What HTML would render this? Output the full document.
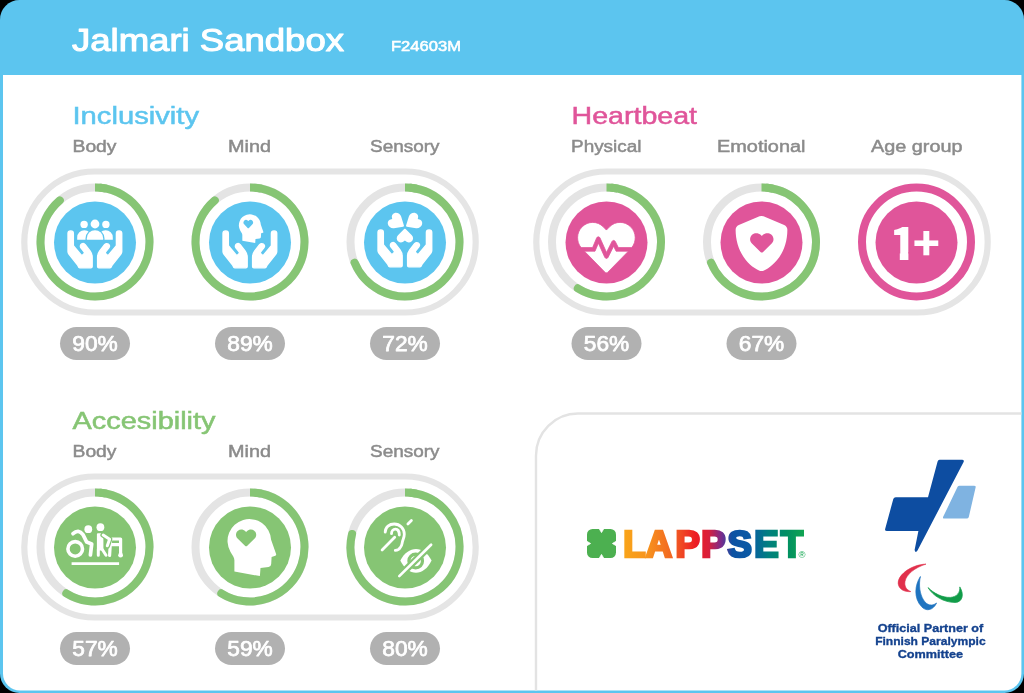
<!DOCTYPE html>
<html lang="en">
<head>
<meta charset="utf-8">
<title>Jalmari Sandbox</title>
<style>
  html, body { margin: 0; padding: 0; background: #000; }
  body { width: 1024px; height: 693px; overflow: hidden; }
  svg { display: block; }
  text { font-family: "Liberation Sans", "DejaVu Sans", sans-serif; }
  .title { font-size: 32px; font-weight: 400; fill: #fff; stroke: #fff; stroke-width: 1.1px; stroke-linejoin: round; }
  .code { font-size: 14.5px; font-weight: 400; fill: #fff; stroke: #fff; stroke-width: 0.55px; stroke-linejoin: round; }
  .h2 { font-size: 23.5px; font-weight: 400; }
  .lbl { font-size: 16px; font-weight: 400; fill: #8b8b8b; stroke: #8b8b8b; stroke-width: 0.45px; }
  .pct { font-size: 21.5px; font-weight: 400; fill: #fff; stroke: #fff; stroke-width: 0.75px; stroke-linejoin: round; text-anchor: middle; }
  .track { fill: none; stroke: #e4e4e4; stroke-width: 8; }
  .prog { fill: none; stroke: #86c574; stroke-width: 8; }
  .pill { fill: none; stroke: #e5e5e5; stroke-width: 6.2; }
  .badge { fill: #b1b1b1; }
  .partner { font-size: 11.8px; font-weight: 700; fill: #14428e; stroke: #14428e; stroke-width: 0.35px; text-anchor: middle; }
</style>
</head>
<body>
<svg width="1024" height="693" viewBox="0 0 1024 693">
  <defs>
    <linearGradient id="lapp" gradientUnits="userSpaceOnUse" x1="623" y1="0" x2="805" y2="0">
      <stop offset="0" stop-color="#f9a51a"/>
      <stop offset="0.13" stop-color="#f7941d"/>
      <stop offset="0.27" stop-color="#f26522"/>
      <stop offset="0.40" stop-color="#ed1c24"/>
      <stop offset="0.47" stop-color="#d91f3b"/>
      <stop offset="0.54" stop-color="#7a2b8c"/>
      <stop offset="0.60" stop-color="#0d52a3"/>
      <stop offset="0.70" stop-color="#0a5aa5"/>
      <stop offset="0.80" stop-color="#00807f"/>
      <stop offset="0.90" stop-color="#008f63"/>
      <stop offset="1" stop-color="#12a650"/>
    </linearGradient>

    <path id="hands" d="M204.8 230.4c-10.600-14.100-30.700-17-44.800-6.400-14.100 10.600-17 30.700-6.400 44.800l38.100 50.800c4.800 6.400 4.100 15.300-1.500 20.900l-12.800 12.800c-6.700 6.700-17.600 6.200-23.600-1.100L64 244.400V96c0-17.700-14.300-32-32-32S0 78.300 0 96v218.400c0 10.900 3.700 21.500 10.500 30l104.100 134.300c5 6.500 8.400 13.900 10.400 21.700 1.800 6.900 8.100 11.600 15.300 11.600H272c8.800 0 16-7.200 16-16V384c0-27.700-9-54.600-25.600-76.800l-57.600-76.800zM608 64c-17.700 0-32 14.300-32 32v148.400l-89.800 107.800c-6 7.200-17 7.700-23.600 1.100l-12.800-12.800c-5.600-5.600-6.300-14.500-1.500-20.900l38.100-50.800c10.600-14.100 7.700-34.200-6.400-44.800-14.100-10.600-34.200-7.700-44.800 6.400l-57.600 76.800C361 329.400 352 356.300 352 384v112c0 8.800 7.200 16 16 16h131.700c7.100 0 13.500-4.700 15.300-11.600 2-7.800 5.400-15.200 10.400-21.700l104.100-134.300c6.800-8.500 10.500-19.100 10.500-30V96c0-17.700-14.300-32-32-32z"/>
    <path id="heart" d="M462.300 62.600C407.500 15.900 326 24.300 275.700 76.200L256 96.500l-19.700-20.300C186.100 24.300 104.500 15.900 49.700 62.600c-62.800 53.600-66.100 149.800-9.900 207.900l193.500 199.800c12.500 12.900 32.800 12.900 45.300 0l193.500-199.800c56.300-58.100 53-154.300-9.800-207.900z"/>
    <path id="shield" d="M466.500 83.700l-192-80a48.150 48.150 0 0 0-36.900 0l-192 80C27.700 91.100 16 108.600 16 128c0 198.500 114.500 335.700 221.500 380.300 11.800 4.900 25.100 4.900 36.900 0C360.100 472.600 496 349.300 496 128c0-19.400-11.700-36.900-29.500-44.300z"/>
    <path id="heartbeat" d="M320.200 243.800l-49.700 99.400c-6 12.100-23.400 11.700-28.900-.6l-56.900-126.300-30 71.700H60.600l182.500 186.500c7.100 7.300 18.600 7.300 25.700 0L451.400 288H342.300l-22.100-44.200zM473.700 73.900l-2.400-2.500c-51.500-52.600-135.800-52.600-187.400 0L256 100l-27.900-28.500c-51.500-52.700-135.900-52.700-187.400 0l-2.400 2.400C-10.400 123.700-12.500 203 31 256h102.400l35.900-86.200c5.400-12.900 23.600-13.200 29.400-.4l58.200 129.300 49-97.900c5.900-11.800 22.700-11.800 28.600 0l27.600 55.200H481c43.500-53 41.400-132.300-7.300-182.100z"/>
    <path id="head" d="M-15.6 24.6 V13.200 C-15.600 10.200 -17.500 8.300 -19.600 4.700 A21.800 21.800 0 1 1 21.100 -7.200 L26.100 7 Q26.500 8.300 25.300 8.700 L21.600 9.900 L21.200 17 Q21.100 19.500 18.600 19.900 L10.500 21.100 L9.900 29.100 Z"/>
  </defs>

  <!-- card -->
  <rect x="0" y="0" width="1024" height="693" rx="19.5" ry="19.5" fill="#5cc5ef"/>
  <path d="M3 75 H1021.400 V673.600 A17 17 0 0 1 1004.400 690.600 H20 A17 17 0 0 1 3 673.600 Z" fill="#fff"/>

  <!-- header -->
  <text class="title" x="72" y="51" textLength="272" lengthAdjust="spacingAndGlyphs">Jalmari Sandbox</text>
  <text class="code" x="391" y="51" textLength="70" lengthAdjust="spacingAndGlyphs">F24603M</text>

  <!-- ============ INCLUSIVITY ============ -->
  <g id="sec-inclusivity">
    <text class="h2" x="72.5" y="124.3" fill="#5cc5ef" stroke="#5cc5ef" stroke-width="0.5" textLength="126.5" lengthAdjust="spacingAndGlyphs">Inclusivity</text>
    <text class="lbl" x="72.5" y="152" textLength="44" lengthAdjust="spacingAndGlyphs">Body</text>
    <text class="lbl" x="228" y="152" textLength="43" lengthAdjust="spacingAndGlyphs">Mind</text>
    <text class="lbl" x="370" y="152" textLength="69.5" lengthAdjust="spacingAndGlyphs">Sensory</text>
    <rect class="pill" x="24.3" y="171.5" width="451.4" height="141" rx="70.5"/>

    <g transform="translate(95 242)">
      <circle class="track" r="54.5"/>
      <path class="prog" d="M0.00 -54.50 A54.5 54.5 0 0 1 11.33 -53.31"/><path class="prog" stroke-linecap="round" d="M5.70 -54.20 A54.5 54.5 0 1 1 -35.18 -41.62"/>
      <circle r="41" cy="0.5" fill="#5cc5ef"/>
      <g fill="#fff">
        <use href="#hands" stroke="#fff" stroke-width="16" stroke-linejoin="round" transform="translate(-27 -16.400) scale(0.084 0.0825)"/>
        <circle cx="-10.9" cy="-17.6" r="3.7"/>
        <circle cx="10.9" cy="-17.6" r="3.7"/>
        <path d="M-17.8 -2.2 V-4.6 A7.2 7.2 0 0 1 -3.4 -4.6 V-2.2 Z"/>
        <path d="M17.8 -2.2 V-4.6 A7.2 7.2 0 0 0 3.400 -4.600 V-2.200 Z"/>
        <path d="M-8.2 -2.2 V-3.6 A8.2 8.2 0 0 1 8.2 -3.6 V-2.2 Z" stroke="#5cc5ef" stroke-width="2.600" paint-order="stroke"/>
        <circle cx="0" cy="-18" r="4.4" stroke="#5cc5ef" stroke-width="1.600" paint-order="stroke"/>
      </g>
    </g>
    <g transform="translate(250 242)">
      <circle class="track" r="54.5"/>
      <path class="prog" d="M0.00 -54.50 A54.5 54.5 0 0 1 11.33 -53.31"/><path class="prog" stroke-linecap="round" d="M5.70 -54.20 A54.5 54.5 0 1 1 -35.18 -41.62"/>
      <circle r="41" cy="0.5" fill="#5cc5ef"/>
      <g fill="#fff">
        <use href="#hands" stroke="#fff" stroke-width="16" stroke-linejoin="round" transform="translate(-27 -16.400) scale(0.084 0.0825)"/>
        <use href="#head" transform="translate(0.200 -13.650) scale(0.505)"/>
        <use href="#heart" fill="#5cc5ef" transform="translate(-6.600 -22.800) scale(0.0191)"/>
      </g>
    </g>
    <g transform="translate(405 242)">
      <circle class="track" r="54.5"/>
      <path class="prog" d="M0.00 -54.50 A54.5 54.5 0 0 1 11.33 -53.31"/><path class="prog" stroke-linecap="round" d="M5.70 -54.20 A54.5 54.5 0 1 1 -50.46 20.60"/>
      <circle r="41" cy="0.5" fill="#5cc5ef"/>
      <g fill="#fff">
        <use href="#hands" stroke="#fff" stroke-width="16" stroke-linejoin="round" transform="translate(-27 -17.400) scale(0.084 0.0825)"/>
        <use href="#heart" transform="translate(-7.900 -19.900) rotate(-58) scale(0.0315 0.0355) translate(-256 -256)"/>
        <use href="#heart" transform="translate(7.900 -19.900) rotate(58) scale(0.0315 0.0355) translate(-256 -256)"/>
        <use href="#heart" transform="translate(-0.100 -6.400) rotate(180) scale(0.032 0.0305) translate(-256 -256)"/>
      </g>
    </g>

    <rect class="badge" x="60" y="327" width="70" height="33" rx="16.5"/>
    <text class="pct" x="95" y="351" textLength="45.5" lengthAdjust="spacingAndGlyphs">90%</text>
    <rect class="badge" x="215" y="327" width="70" height="33" rx="16.5"/>
    <text class="pct" x="250" y="351" textLength="45.5" lengthAdjust="spacingAndGlyphs">89%</text>
    <rect class="badge" x="370" y="327" width="70" height="33" rx="16.5"/>
    <text class="pct" x="405" y="351" textLength="45.5" lengthAdjust="spacingAndGlyphs">72%</text>
  </g>

  <!-- ============ HEARTBEAT ============ -->
  <g id="sec-heartbeat">
    <text class="h2" x="571.5" y="124.3" fill="#e0559a" stroke="#e0559a" stroke-width="0.5" textLength="125.5" lengthAdjust="spacingAndGlyphs">Heartbeat</text>
    <text class="lbl" x="571" y="152" textLength="70.5" lengthAdjust="spacingAndGlyphs">Physical</text>
    <text class="lbl" x="717" y="152" textLength="88.5" lengthAdjust="spacingAndGlyphs">Emotional</text>
    <text class="lbl" x="871" y="152" textLength="91.5" lengthAdjust="spacingAndGlyphs">Age group</text>
    <rect class="pill" x="536.3" y="171.5" width="451.4" height="141" rx="70.5"/>

    <g transform="translate(606.5 242)">
      <circle class="track" r="54.5"/>
      <path class="prog" d="M0.00 -54.50 A54.5 54.5 0 0 1 11.33 -53.31"/><path class="prog" stroke-linecap="round" d="M5.70 -54.20 A54.5 54.5 0 1 1 -28.71 46.32"/>
      <circle r="41" cy="0.5" fill="#e0559a"/>
      <use href="#heartbeat" fill="#fff" stroke="#e0559a" stroke-width="7" transform="translate(-28.900 -23.200) scale(0.1125)"/>
    </g>
    <g transform="translate(761.5 242)">
      <circle class="track" r="54.5"/>
      <path class="prog" d="M0.00 -54.50 A54.5 54.5 0 0 1 11.33 -53.31"/><path class="prog" stroke-linecap="round" d="M5.70 -54.20 A54.5 54.5 0 1 1 -50.46 20.60"/>
      <circle r="41" cy="0.5" fill="#e0559a"/>
      <use href="#shield" fill="#fff" transform="translate(-27.600 -26.100) scale(0.1078)"/>
      <use href="#heart" fill="#e0559a" transform="translate(-11.400 -10.200) scale(0.0457 0.0433)"/>
    </g>
    <g transform="translate(916.5 242)">
      <circle r="54.5" fill="none" stroke="#e0559a" stroke-width="8"/>
      <circle r="41" cy="0.5" fill="#e0559a"/>
      <text x="-26.700 -3.700" y="18" font-size="44.700" font-weight="900" fill="#fff" style="font-family:'Noto Sans CJK JP','Liberation Sans',sans-serif">1+</text>
      <path d="M-26.500 10.300 H-16.700 V19 H-26.500 Z M-8.100 10.300 H-1.500 V19 H-8.100 Z" fill="#e0559a"/>
    </g>

    <rect class="badge" x="571.5" y="327" width="70" height="33" rx="16.5"/>
    <text class="pct" x="606.5" y="351" textLength="45.5" lengthAdjust="spacingAndGlyphs">56%</text>
    <rect class="badge" x="726.5" y="327" width="70" height="33" rx="16.5"/>
    <text class="pct" x="761.5" y="351" textLength="45.5" lengthAdjust="spacingAndGlyphs">67%</text>
  </g>

  <!-- ============ ACCESIBILITY ============ -->
  <g id="sec-accesibility">
    <text class="h2" x="72.5" y="429.3" fill="#86c574" stroke="#86c574" stroke-width="0.5" textLength="143" lengthAdjust="spacingAndGlyphs">Accesibility</text>
    <text class="lbl" x="72.5" y="457" textLength="44" lengthAdjust="spacingAndGlyphs">Body</text>
    <text class="lbl" x="228" y="457" textLength="43" lengthAdjust="spacingAndGlyphs">Mind</text>
    <text class="lbl" x="370" y="457" textLength="69.5" lengthAdjust="spacingAndGlyphs">Sensory</text>
    <rect class="pill" x="24.3" y="476.5" width="451.4" height="141" rx="70.5"/>

    <g transform="translate(95 547)">
      <circle class="track" r="54.5"/>
      <path class="prog" d="M0.00 -54.50 A54.5 54.5 0 0 1 11.33 -53.31"/><path class="prog" stroke-linecap="round" d="M5.70 -54.20 A54.5 54.5 0 1 1 -28.71 46.32"/>
      <circle r="41" cy="0.5" fill="#86c574"/>
      <g fill="none" stroke="#fff" stroke-width="3.600" stroke-linecap="round" stroke-linejoin="round">
        <circle cx="-19.800" cy="1.900" r="7.300"/>
        <path d="M-22 -13.300 Q-16.500 -18.500 -12 -12.300 L-8.300 -4.900 L-3.300 -3 L-4.600 8" stroke="#86c574" stroke-width="6.400"/>
        <path d="M-22 -13.300 Q-16.500 -18.500 -12 -12.300 L-8.300 -4.900 L-3.300 -3 L-4.600 8" stroke-width="3.700"/>
        <circle cx="-6.700" cy="-17.800" r="4.500" fill="#86c574" stroke="none"/>
        <circle cx="-6.700" cy="-17.800" r="3.900" fill="#fff" stroke="none"/>
        <circle cx="5.400" cy="-19.800" r="3.900" fill="#fff" stroke="none"/>
        <path d="M2.900 -12.800 H7.400 V2.500 H2.900 Z" fill="#fff" stroke-width="2"/>
        <path d="M3.300 2.500 V8.200 M7.300 2.500 L11 8.200" stroke-width="3"/>
        <path d="M14.600 8.300 L15.600 -8 H25.600 V6.500 M15.500 -2.400 H25.600" stroke-width="3.200"/>
        <path d="M8.200 -12 L14.600 -7.800 L12.300 -1.200" stroke="#86c574" stroke-width="5.600"/>
        <path d="M8.200 -12 L14.600 -7.800 L12.300 -1.200" stroke-width="3"/>
        <circle cx="25.600" cy="8.200" r="2.400" fill="#fff" stroke="none"/>
        <path d="M-23.400 16.600 H24.100" stroke-width="2.900" stroke-linecap="butt"/>
      </g>
    </g>
    <g transform="translate(250 547)">
      <circle class="track" r="54.5"/>
      <path class="prog" d="M0.00 -54.50 A54.5 54.5 0 0 1 11.33 -53.31"/><path class="prog" stroke-linecap="round" d="M5.70 -54.20 A54.5 54.5 0 1 1 -28.71 46.32"/>
      <circle r="41" cy="0.5" fill="#86c574"/>
      <use href="#head" fill="#fff"/>
      <use href="#heart" fill="#86c574" transform="translate(-14 -18.600) scale(0.0395 0.0373)"/>
    </g>
    <g transform="translate(405 547)">
      <circle class="track" r="54.5"/>
      <path class="prog" d="M0.00 -54.50 A54.5 54.5 0 0 1 11.33 -53.31"/><path class="prog" stroke-linecap="round" d="M5.70 -54.20 A54.5 54.5 0 1 1 -52.93 -13.00"/>
      <circle r="41" cy="0.5" fill="#86c574"/>
      <g fill="none" stroke="#fff" stroke-width="2.800" stroke-linecap="round" stroke-linejoin="round">
        <path d="M-19.800 -14.800 C-19.800 -20 -15.500 -23 -10.800 -23 C-5 -23 -0.700 -18.500 -0.700 -12.800 C-0.700 -9.500 -2.200 -7.500 -2.700 -4.700 C-3.200 -2 -3.200 -1 -4.700 0.400 C-5.800 2.500 -7.800 3.400 -9.700 3.400"/>
        <path d="M-13.500 -13.300 C-13.500 -16 -11.800 -17.800 -9.600 -17.800 C-7.300 -17.800 -5.700 -15.500 -5.700 -12"/>
        <path d="M-22.900 2.900 L-10.300 -9.700"/>
        <path d="M2.900 -22.900 L6.400 -26.400"/>
        <path d="M-4.700 13.500 C3 -2 19 -2 26.600 13.500 C19 29.700 3 29.700 -4.700 13.500 Z" fill="#fff" stroke="none"/>
        <circle cx="10.700" cy="14" r="6.800" stroke="#86c574" stroke-width="3.200"/>
        <path d="M-6.300 29.700 L26.700 -2.800" stroke="#86c574" stroke-width="7" stroke-linecap="butt"/>
        <path d="M-5.700 29.100 L26.100 -2.200" stroke-width="2.700"/>
      </g>
    </g>

    <rect class="badge" x="60" y="632" width="70" height="33" rx="16.5"/>
    <text class="pct" x="95" y="656" textLength="45.5" lengthAdjust="spacingAndGlyphs">57%</text>
    <rect class="badge" x="215" y="632" width="70" height="33" rx="16.5"/>
    <text class="pct" x="250" y="656" textLength="45.5" lengthAdjust="spacingAndGlyphs">59%</text>
    <rect class="badge" x="370" y="632" width="70" height="33" rx="16.5"/>
    <text class="pct" x="405" y="656" textLength="45.5" lengthAdjust="spacingAndGlyphs">80%</text>
  </g>

  <!-- ============ LOGO PANEL ============ -->
  <g id="logos">
    <path d="M1021.400 413.500 H578 A42 42 0 0 0 536 455.500 V690.600" fill="none" stroke="#e3e3e3" stroke-width="2.4"/>

    <!-- Lappset -->
    <g id="lappset">
      <g transform="translate(587 529)">
        <rect x="0" y="0" width="29" height="29" rx="5.5" fill="#4cb050"/>
        <path d="M11.800 -1 L14.500 3.600 L17.200 -1 Z M11.800 30 L14.500 25.400 L17.200 30 Z M-1 11.800 L3.600 14.500 L-1 17.200 Z M30 11.800 L25.400 14.500 L30 17.200 Z" fill="#fff" stroke="#fff" stroke-width="0.800" stroke-linejoin="round"/>
      </g>
      <text y="556.600" font-size="36.500" font-weight="700" fill="url(#lapp)" stroke="url(#lapp)" stroke-width="2.700" stroke-linejoin="miter" x="623.300 645.800 675.600 701.300 727.600 754.300 780.800">LAPPSET</text>
      <text x="802" y="558.100" font-size="9.500" font-weight="400" fill="#12a650" text-anchor="middle">®</text>
    </g>

    <!-- Finnish Paralympic Committee -->
    <g id="paralympic">
      <path d="M939.5 459.8 H962 Q964.5 459.8 963.6 462 L917.5 550.5 Q915.5 553.5 914.6 550 L918.4 531 H887 Q884.5 531 885.2 528.8 L893.3 499 Q893.8 497.3 895.8 497.3 H928 L937.6 461.5 Q938.1 459.8 939.5 459.8 Z" fill="#0d4da1"/>
      <path d="M959.5 485.7 H974 Q976.2 485.7 975.6 487.6 L968.8 517 Q968.4 518.6 966.6 518.6 H944.5 Q942.2 518.6 943.3 516.6 L957.6 486.8 Q958.2 485.7 959.5 485.7 Z" fill="#7fb3e1"/>
      <g id="agitos">
        <path d="M926 564.100 C911 564.500 895.500 576 898.600 585.500 C900.300 590.200 905.500 592 910.800 591.600 C906 589.500 904.300 586 905 581.500 C906.200 574.500 915 567.500 926 564.100 Z" fill="#e1304c" stroke="#e1304c" stroke-width="0.600" stroke-linejoin="round"/>
        <path d="M920.400 576.500 C914.800 585 913.500 598 921.500 606.600 C926 611.800 933 610.500 936.600 603 C932 606.500 927 605.500 923.500 600 C919.800 594 918.500 585 920.400 576.500 Z" fill="#1f74c0" stroke="#1f74c0" stroke-width="0.700" stroke-linejoin="round"/>
        <path d="M928 587.600 C933 596 944 602.500 955 602.500 C962.500 602.300 964.500 594.500 959.800 586.900 C960.300 592.500 957 596.800 950.500 597.400 C942.500 597.800 934 593.500 928 587.600 Z" fill="#119c49" stroke="#119c49" stroke-width="0.700" stroke-linejoin="round"/>
      </g>
      <text class="partner" x="930.4" y="631.5" textLength="105.5" lengthAdjust="spacingAndGlyphs">Official Partner of</text>
      <text class="partner" x="930.4" y="644.8" textLength="110.5" lengthAdjust="spacingAndGlyphs">Finnish Paralympic</text>
      <text class="partner" x="930.4" y="658.2" textLength="65.5" lengthAdjust="spacingAndGlyphs">Committee</text>
    </g>
  </g>
</svg>
</body>
</html>
